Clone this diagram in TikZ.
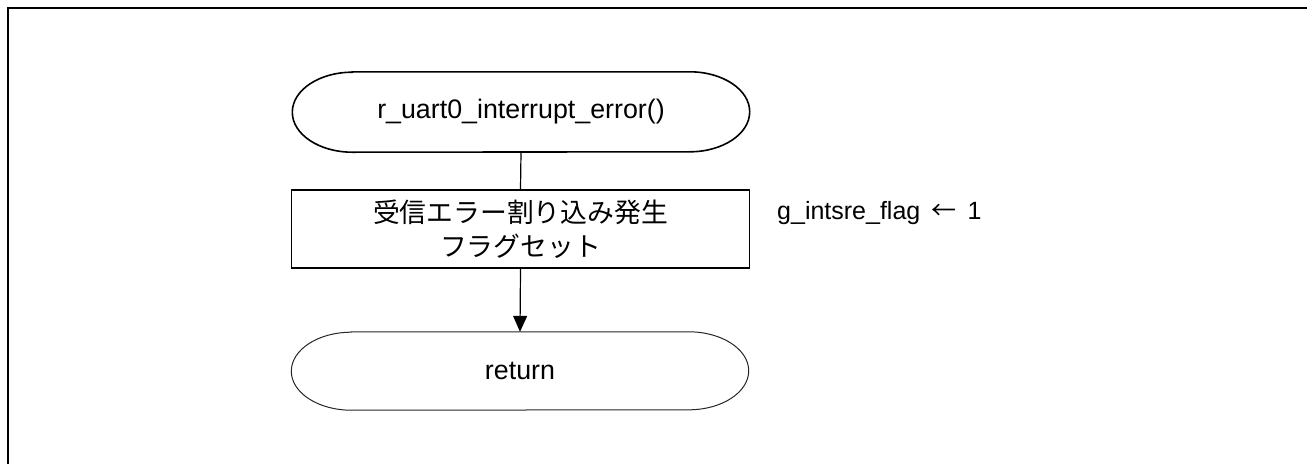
\documentclass[tikz,border=0pt]{standalone}
\usepackage{fontspec}
\setmainfont{Liberation Sans}
\newfontfamily\jp{Noto Sans CJK JP}
\usetikzlibrary{arrows.meta}
\begin{document}
\begin{tikzpicture}[x=1pt,y=-1pt,
  lbl/.style={font=\fontsize{25}{34}\selectfont, inner sep=0pt, align=center},
  termshape/.style={draw=none, minimum width=457pt, minimum height=80pt, inner sep=0pt, font=\fontsize{26.8}{30}\selectfont},
  procbox/.style={draw, line width=1.4pt, minimum width=458pt, minimum height=78pt, inner sep=0pt, align=center, font=\jp\fontsize{26.8}{34}\selectfont},
  conn/.style={line width=1.2pt},
  frameline/.style={line width=2pt}]
\useasboundingbox (0,0) rectangle (1315,464);
\coordinate (ftl) at (8,7.5);
\coordinate (ftr) at (1307,7.5);
\coordinate (fbl) at (8,464);
\draw[frameline] (fbl) -- (ftl) -- (ftr);

\node[termshape] (start) at (521,112) {r\_uart0\_interrupt\_error()};
\draw[line width=1.6pt] ([xshift=60pt]start.north west) -- ([xshift=-60pt]start.north east)
  arc[start angle=90,end angle=-90,x radius=60pt,y radius=40pt]
  -- ([xshift=60pt]start.south west)
  arc[start angle=270,end angle=90,x radius=60pt,y radius=40pt] -- cycle;

\node[procbox] (proc) at (520.5,229) {受信エラー割り込み発生\\フラグセット};

\node[lbl, anchor=west] (note) at (777,213) {g\_intsre\_flag\, {\jp ←}\, 1};

\node[termshape, minimum height=78pt] (ret) at (520,371) {return};
\draw[line width=1pt, draw=black!85] ([xshift=60pt]ret.north west) -- ([xshift=-60pt]ret.north east)
  arc[start angle=90,end angle=-90,x radius=60pt,y radius=39pt]
  -- ([xshift=60pt]ret.south west)
  arc[start angle=270,end angle=90,x radius=60pt,y radius=39pt] -- cycle;

\draw[conn] (start.south) -- (proc.north);
\draw[conn, -{Triangle[length=16pt,width=14pt]}] (proc.south) -- (ret.north);
\end{tikzpicture}
\end{document}
